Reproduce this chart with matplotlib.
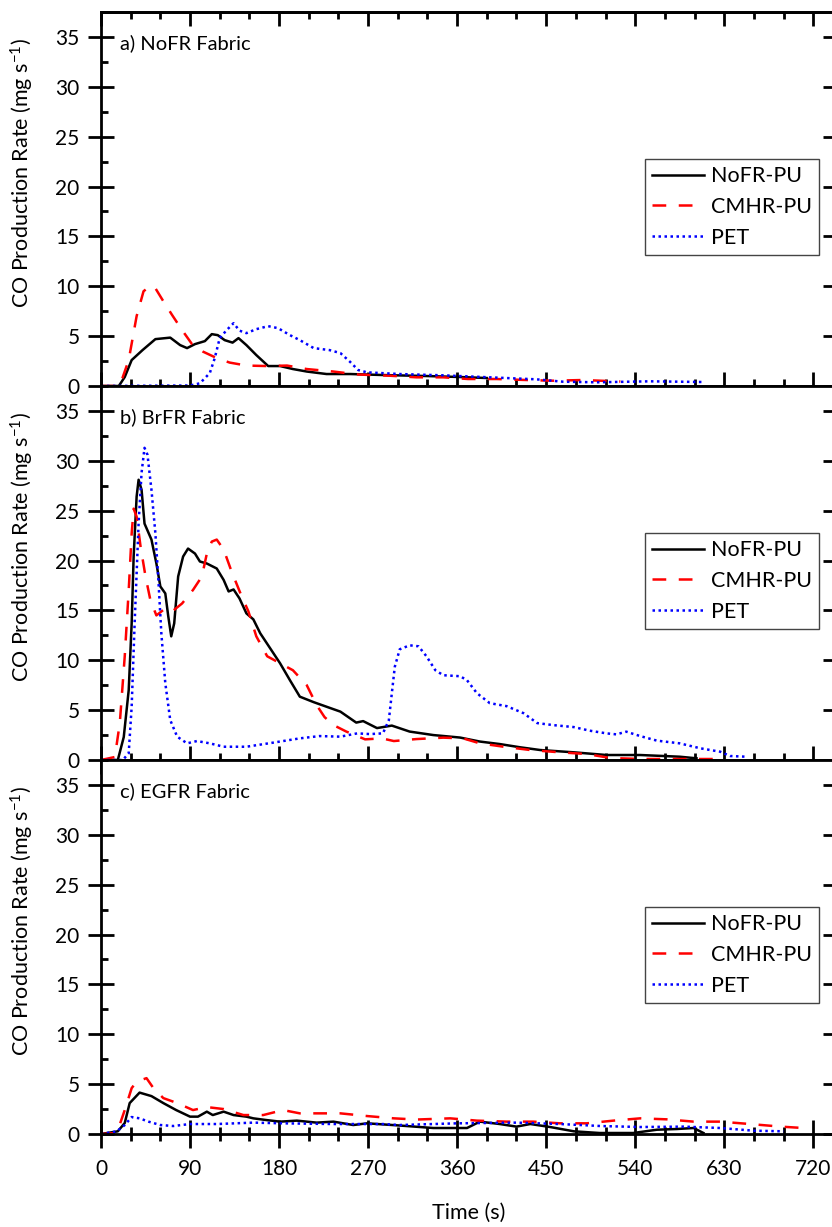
import matplotlib
matplotlib.use("Agg")
import matplotlib.pyplot as plt
from matplotlib.ticker import MultipleLocator

plt.rcParams['font.family'] = ['Lato', 'DejaVu Sans']
plt.rcParams['mathtext.fontset'] = 'custom'
plt.rcParams['mathtext.rm'] = 'Lato'
plt.rcParams['mathtext.it'] = 'Lato:italic'

# a) NoFR Fabric
a_nofr_t = [0, 18, 24, 31, 42, 55, 70, 80, 87, 95, 105, 112, 118, 125, 133, 139, 147, 157, 169, 181,
            194, 208, 228, 252, 285, 329, 363, 390]
a_nofr_co = [0, 0, 0.9, 2.6, 3.6, 4.7, 4.85, 4.1, 3.8, 4.2, 4.5, 5.2, 5.1, 4.6, 4.35, 4.8, 4.1, 3.1, 2.0, 2.0,
             1.7, 1.45, 1.2, 1.2, 1.1, 1.0, 0.9, 0.8]
a_cmhr_t = [0, 18, 21, 28, 36, 43, 50, 55, 63, 72, 82, 92, 103, 117, 130, 147, 168, 188, 208, 235,
            260, 292, 319, 346, 371, 400, 430, 457, 487, 525]
a_cmhr_co = [0, 0, 0.6, 2.6, 7.0, 9.5, 10.05, 9.8, 8.5, 7.1, 5.6, 4.2, 3.45, 2.8, 2.35, 2.05, 2.0, 2.05, 1.7, 1.45,
             1.15, 1.03, 0.87, 0.87, 0.7, 0.7, 0.6, 0.53, 0.6, 0.45]
a_pet_t = [0, 90, 100, 110, 115, 120, 127, 134, 140, 147, 157, 169, 179, 191, 201, 215, 231, 242, 252, 260,
           269, 302, 346, 393, 440, 467, 501, 555, 608]
a_pet_co = [0, 0.05, 0.27, 1.3, 2.8, 4.8, 5.6, 6.3, 5.55, 5.3, 5.7, 6.0, 5.8, 5.1, 4.6, 3.8, 3.6, 3.3, 2.4, 1.6,
            1.37, 1.2, 1.07, 0.87, 0.67, 0.43, 0.37, 0.47, 0.4]

# b) BrFR Fabric
b_nofr_t = [0, 17, 23, 28, 31, 33, 36, 38, 41, 44, 51, 56, 60, 65, 68, 71, 74, 78, 83, 88,
            95, 100, 107, 117, 124, 129, 134, 140, 147, 154, 161, 171, 181, 191, 201, 215, 232, 242, 258, 265,
            279, 294, 312, 336, 363, 383, 403, 424, 444, 478, 511, 545, 585, 602]
b_nofr_co = [0, 0, 2.3, 7.0, 13.7, 20.4, 26.4, 28.1, 27.1, 23.7, 22.1, 19.7, 17.4, 16.7, 14.4, 12.4, 13.7, 18.4, 20.4, 21.2,
             20.7, 19.9, 19.7, 19.2, 18.05, 16.9, 17.1, 16.2, 14.7, 14.1, 12.7, 11.2, 9.7, 8.0, 6.35, 5.8, 5.2, 4.85, 3.75, 3.9,
             3.2, 3.45, 2.85, 2.5, 2.25, 1.85, 1.6, 1.27, 1.0, 0.77, 0.5, 0.5, 0.33, 0.17]
b_cmhr_t = [0, 14, 19, 24, 28, 31, 33, 36, 40, 45, 50, 56, 65, 72, 82, 93, 102, 107, 112, 117,
            124, 132, 141, 149, 157, 168, 181, 194, 208, 218, 226, 235, 248, 267, 284, 296, 319, 346, 366, 383,
            407, 434, 464, 491, 515, 545, 572, 602, 630]
b_cmhr_co = [0, 0.3, 3.7, 10.4, 17.0, 22.7, 25.2, 24.4, 21.4, 18.4, 16.0, 14.5, 15.2, 14.9, 15.7, 17.05, 18.4, 20.7, 21.9, 22.1,
             21.1, 18.9, 16.7, 14.9, 12.4, 10.4, 9.7, 9.0, 7.5, 5.5, 4.3, 3.5, 2.85, 2.07, 2.17, 1.9, 2.1, 2.24, 2.17, 1.67,
             1.33, 1.0, 0.77, 0.6, 0.2, 0.1, 0.1, 0.1, 0.1]
b_pet_t = [0, 22, 28, 31, 34, 38, 41, 44, 47, 51, 55, 58, 61, 65, 70, 77, 87, 97, 110, 124,
           147, 174, 201, 221, 242, 259, 272, 285, 291, 294, 297, 302, 312, 321, 329, 338, 346, 363, 370, 380,
           393, 410, 427, 441, 457, 478, 494, 511, 521, 531, 545, 562, 585, 606, 626, 636, 652]
b_pet_co = [0, 0, 0.67, 5.35, 13.7, 23.7, 28.8, 31.3, 30.6, 27.1, 22.7, 18.05, 12.7, 7.7, 4.0, 2.34, 1.67, 1.9, 1.67, 1.33,
            1.33, 1.74, 2.17, 2.4, 2.34, 2.67, 2.6, 2.67, 4.0, 6.7, 9.35, 11.1, 11.5, 11.4, 10.4, 9.0, 8.5, 8.4, 8.0, 6.7,
            5.7, 5.4, 4.7, 3.7, 3.5, 3.3, 2.94, 2.67, 2.57, 2.84, 2.4, 1.94, 1.67, 1.17, 0.83, 0.4, 0.33]

# c) EGFR Fabric
c_nofr_t = [0, 17, 24, 29, 39, 51, 63, 76, 90, 98, 107, 113, 124, 134, 147, 154, 167, 181, 198, 218,
            235, 255, 269, 302, 336, 370, 383, 403, 420, 434, 454, 478, 504, 538, 562, 582, 599, 609]
c_nofr_co = [0, 0.27, 1.1, 3.1, 4.15, 3.8, 3.1, 2.4, 1.74, 1.74, 2.24, 1.9, 2.24, 1.9, 1.74, 1.57, 1.4, 1.24, 1.34, 1.14,
             1.24, 0.9, 1.07, 0.85, 0.6, 0.6, 1.24, 1.0, 0.74, 1.0, 0.7, 0.27, 0.1, 0.1, 0.43, 0.5, 0.6, 0.1]
c_cmhr_t = [0, 16, 24, 31, 36, 46, 53, 63, 77, 93, 107, 124, 144, 164, 184, 201, 221, 242, 269, 296,
            319, 353, 380, 410, 437, 464, 491, 518, 545, 572, 599, 626, 656, 687, 710]
c_cmhr_co = [0, 0.1, 2.4, 4.6, 5.25, 5.6, 4.6, 3.6, 3.1, 2.4, 2.7, 2.5, 1.9, 1.9, 2.4, 2.07, 2.07, 2.07, 1.8, 1.57,
             1.45, 1.57, 1.34, 1.24, 1.24, 1.07, 1.07, 1.34, 1.57, 1.47, 1.24, 1.24, 1.0, 0.74, 0.6]
c_pet_t = [0, 16, 24, 31, 39, 48, 60, 73, 90, 117, 154, 184, 235, 285, 302, 360, 420, 464, 505, 545,
           589, 626, 660, 690]
c_pet_co = [0, 0.27, 0.9, 1.7, 1.57, 1.24, 0.9, 0.8, 1.0, 1.0, 1.14, 1.07, 1.0, 1.0, 0.9, 1.07, 1.14, 1.0, 0.8, 0.7,
            0.74, 0.6, 0.33, 0.27]

panel_titles = ['a) NoFR Fabric', 'b) BrFR Fabric', 'c) EGFR Fabric']
series_labels = ['NoFR-PU', 'CMHR-PU', 'PET']
x_ticks = [0, 90, 180, 270, 360, 450, 540, 630, 720]
y_ticks = [0, 5, 10, 15, 20, 25, 30, 35]


def draw_panel(ax, curves, title, bottom):
    """Desenha um painel com as tres curvas de CO."""
    (t1, y1), (t2, y2), (t3, y3) = curves
    ax.plot(t1, y1, color='black', lw=1.8, label=series_labels[0])
    ax.plot(t2, y2, color='#ff0000', lw=1.8, linestyle=(0, (5.5, 5)), label=series_labels[1])
    ax.plot(t3, y3, color='#0000ff', lw=1.8, linestyle=(0, (1, 1.4)), label=series_labels[2])

    ax.set_xlim(0, 743)
    ax.set_ylim(0, 37.5)
    ax.set_xticks(x_ticks)
    ax.set_yticks(y_ticks)
    ax.xaxis.set_minor_locator(MultipleLocator(30))
    ax.yaxis.set_minor_locator(MultipleLocator(2.5))
    for s in ax.spines.values():
        s.set_linewidth(2.0)

    ax.tick_params(axis='x', which='major', direction='inout', length=20, width=2.0,
                   top=False, labelsize=15, pad=8, labelbottom=bottom)
    ax.tick_params(axis='x', which='minor', direction='inout', length=10, width=2.0, top=False)
    ax.tick_params(axis='y', which='major', direction='inout', length=19, width=2.0,
                   right=True, labelsize=15, pad=6)
    ax.tick_params(axis='y', which='minor', direction='in', length=5, width=2.0, right=False)

    ax.text(0.026, 0.916, title, transform=ax.transAxes, ha='left', va='center', fontsize=14.5)
    ax.set_ylabel(r'CO Production Rate (mg s$^{\mathregular{-1}}$)', fontsize=15.5)
    ax.yaxis.set_label_coords(-0.088, 0.57)

    leg = ax.legend(loc='upper right', bbox_to_anchor=(0.977, 0.608), borderaxespad=0,
                    fontsize=15.5, handlelength=2.4, handletextpad=0.3, borderpad=0.35,
                    labelspacing=0.5, fancybox=False, framealpha=1)
    leg.get_frame().set_edgecolor('#444444')
    leg.get_frame().set_linewidth(1.0)


def main():
    fig = plt.figure(figsize=(8.32, 12.27), dpi=100)
    left, width, height = 101 / 832, 735 / 832, 374 / 1227
    bottoms = [1 - 386 / 1227, 1 - 760 / 1227, 1 - 1134 / 1227]

    data = [
        [(a_nofr_t, a_nofr_co), (a_cmhr_t, a_cmhr_co), (a_pet_t, a_pet_co)],
        [(b_nofr_t, b_nofr_co), (b_cmhr_t, b_cmhr_co), (b_pet_t, b_pet_co)],
        [(c_nofr_t, c_nofr_co), (c_cmhr_t, c_cmhr_co), (c_pet_t, c_pet_co)],
    ]

    axes = []
    for i in range(3):
        ax = fig.add_axes([left, bottoms[i], width, height])
        draw_panel(ax, data[i], panel_titles[i], bottom=(i == 2))
        axes.append(ax)

    # ticks do topo apenas para dentro
    top = axes[0].secondary_xaxis('top')
    top.set_xticks(x_ticks)
    top.xaxis.set_minor_locator(MultipleLocator(30))
    top.tick_params(which='major', direction='in', length=10, width=2.0, labeltop=False)
    top.tick_params(which='minor', direction='in', length=5, width=2.0)
    top.spines['top'].set_linewidth(2.0)

    axes[2].set_xlabel('Time (s)', fontsize=15.5, labelpad=17)

    fig.savefig('out.png', dpi=100)


if __name__ == "__main__":
    main()
